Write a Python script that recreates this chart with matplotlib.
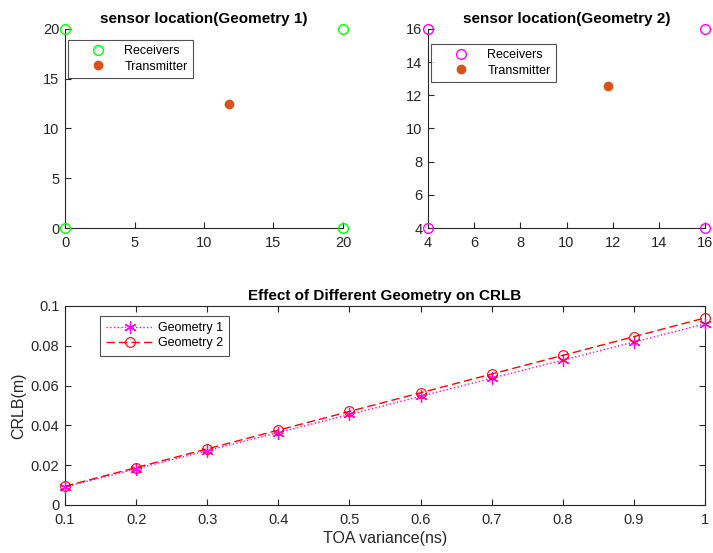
import matplotlib.pyplot as plt
from matplotlib.markers import MarkerStyle

plt.rcParams['font.family'] = ['Liberation Sans', 'DejaVu Sans']
plt.rcParams['font.size'] = 10

# receiver / transmitter positions
rx1_x = [0, 0, 20, 20]
rx1_y = [0, 20, 0, 20]
tx1 = (11.8, 12.5)

rx2_x = [4, 4, 16, 16]
rx2_y = [4, 16, 4, 16]
tx2 = (11.8, 12.55)

# CRLB vs TOA variance
toa_var = [0.1, 0.2, 0.3, 0.4, 0.5, 0.6, 0.7, 0.8, 0.9, 1.0]
crlb_geo1 = [0.0091, 0.0182, 0.0273, 0.0364, 0.0455, 0.0546, 0.0637, 0.0728, 0.0819, 0.0910]
crlb_geo2 = [0.0094, 0.0188, 0.0282, 0.0376, 0.0470, 0.0564, 0.0658, 0.0752, 0.0846, 0.0940]

TX_COLOR = '#D95319'
AX_COLOR = '#262626'
TICK_FS = 10.5


def styleAxes(ax, box):
  for s in ax.spines.values():
    s.set_color(AX_COLOR)
    s.set_linewidth(0.8)
  if not box:
    ax.spines['top'].set_visible(False)
    ax.spines['right'].set_visible(False)
  ax.tick_params(direction='in', colors=AX_COLOR, labelsize=TICK_FS, length=4,
                 top=box, right=box)
  ax.tick_params(axis='x', pad=6)
  ax.tick_params(axis='y', pad=4)


def sensorPlot(ax, rx, ry, tx, rxColor, title, lims, ticks, legTop):
  ax.plot(rx, ry, 'o', mfc='none', mec=rxColor, ms=7, mew=1.0,
          label='Receivers', clip_on=False, zorder=5)
  ax.plot(tx[0], tx[1], 'o', color=TX_COLOR, ms=6, label='Transmitter')
  ax.set_xlim(lims)
  ax.set_ylim(lims)
  ax.set_xticks(ticks)
  ax.set_yticks(ticks)
  ax.set_title(title, fontweight='bold', fontsize=11, pad=4)
  styleAxes(ax, False)
  leg = ax.legend(loc='upper left', bbox_to_anchor=(0.011, legTop), fancybox=False,
                  edgecolor=AX_COLOR, fontsize=9, borderaxespad=0,
                  borderpad=0.4, labelspacing=0.3, handlelength=4.0,
                  handletextpad=0.1)
  leg.get_frame().set_linewidth(0.8)


fig = plt.figure(figsize=(7.13, 5.53), dpi=100)

ax1 = fig.add_axes([0.0912, 0.5877, 0.3898, 0.3599])
sensorPlot(ax1, rx1_x, rx1_y, tx1, '#00FF00', 'sensor location(Geometry 1)',
           (0, 20), [0, 5, 10, 15, 20], 0.945)

ax2 = fig.add_axes([0.6003, 0.5877, 0.3885, 0.3599])
sensorPlot(ax2, rx2_x, rx2_y, tx2, '#FF00FF', 'sensor location(Geometry 2)',
           (4, 16), [4, 6, 8, 10, 12, 14, 16], 0.925)

asterisk = MarkerStyle((6, 2, 0))
ax3 = fig.add_axes([0.0912, 0.0868, 0.8976, 0.3599])
ax3.plot(toa_var, crlb_geo1, ':', color='#FF00FF', marker=asterisk, ms=9, mew=0.9,
         lw=1.0, label='Geometry 1', clip_on=False, zorder=4)
ax3.plot(toa_var, crlb_geo2, '--', color='#FF0000', marker='o', mfc='none', ms=7,
         mew=0.8, lw=1.0, dashes=(6, 3), label='Geometry 2', clip_on=False, zorder=5)
ax3.set_xlim(0.1, 1)
ax3.set_ylim(0, 0.1)
ax3.set_xticks([0.1, 0.2, 0.3, 0.4, 0.5, 0.6, 0.7, 0.8, 0.9, 1])
ax3.set_xticklabels(['0.1', '0.2', '0.3', '0.4', '0.5', '0.6', '0.7', '0.8', '0.9', '1'])
ax3.set_yticks([0, 0.02, 0.04, 0.06, 0.08, 0.1])
ax3.set_yticklabels(['0', '0.02', '0.04', '0.06', '0.08', '0.1'])
ax3.set_title('Effect of Different Geometry on CRLB', fontweight='bold', fontsize=11, pad=4)
ax3.set_xlabel('TOA variance(ns)', fontsize=11.5, color=AX_COLOR, labelpad=3)
ax3.set_ylabel('CRLB(m)', fontsize=11.5, color=AX_COLOR, labelpad=3)
styleAxes(ax3, True)
leg = ax3.legend(loc='upper left', bbox_to_anchor=(0.055, 0.95), fancybox=False,
                 edgecolor=AX_COLOR, fontsize=9, borderaxespad=0, borderpad=0.5,
                 labelspacing=0.25, handlelength=3.7, handletextpad=0.4)
leg.get_frame().set_linewidth(0.8)

plt.savefig('out.png', dpi=100)
